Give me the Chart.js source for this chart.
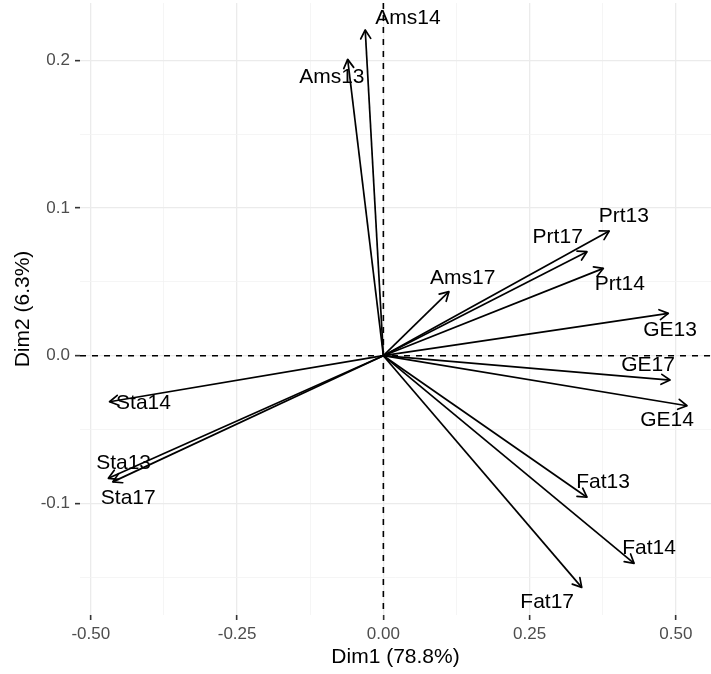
<!DOCTYPE html>
<html>
<head>
<meta charset="utf-8">
<script src="https://cdn.jsdelivr.net/npm/chart.js@4.4.0/dist/chart.umd.min.js"></script>
<style>
  html, body { margin: 0; padding: 0; background: #fff; }
  #wrap { width: 711px; height: 674px; position: relative; }
</style>
</head>
<body>
<div id="wrap"><canvas id="pcaVar"></canvas></div>
<script>
// variable names and their loadings on Dim1 / Dim2
var varNames = ['Ams14', 'Ams13', 'Ams17', 'Prt13', 'Prt17', 'Prt14', 'GE13', 'GE17', 'GE14',
                'Fat13', 'Fat14', 'Fat17', 'Sta14', 'Sta13', 'Sta17'];
var dim1 = [-0.031, -0.061, 0.112, 0.386, 0.348, 0.376, 0.487, 0.490, 0.519,
            0.348, 0.4285, 0.339, -0.468, -0.470, -0.4625];
var dim2 = [0.2207, 0.2008, 0.0434, 0.0845, 0.0705, 0.0592, 0.0287, -0.0165, -0.0339,
            -0.0959, -0.1407, -0.157, -0.0312, -0.0831, -0.0855];

// repelled label positions (data units)
var labelX = [0.042, -0.088, 0.1357, 0.411, 0.298, 0.404, 0.49, 0.4525, 0.485,
              0.3755, 0.454, 0.28, -0.410, -0.444, -0.436];
var labelY = [0.229, 0.189, 0.0524, 0.0947, 0.080, 0.0486, 0.0174, -0.0063, -0.0436,
              -0.0858, -0.1303, -0.167, -0.0323, -0.0729, -0.0966];

// ticks
var xMajor = [-0.5, -0.25, 0, 0.25, 0.5];
var xTicks = [-0.5, -0.375, -0.25, -0.125, 0, 0.125, 0.25, 0.375, 0.5];
var yMajor = [-0.1, 0, 0.1, 0.2];
var yTicks = [-0.15, -0.1, -0.05, 0, 0.05, 0.1, 0.15, 0.2];

var FONT = "'Liberation Sans', Arial, Helvetica, sans-serif";

function isMajor(list, v) {
    return list.some(m => Math.abs(m - v) < 1e-9);
}

var datasets = varNames.map((name, i) => ({
    label: name,
    data: [{ x: 0, y: 0 }, { x: dim1[i], y: dim2[i] }],
    showLine: true,
    borderColor: '#000',
    borderWidth: 1.7,
    pointRadius: 0,
    fill: false
}));

// dashed zero lines drawn under the arrows
var zeroLines = {
    id: 'zeroLines',
    beforeDatasetsDraw(chart) {
        var ctx = chart.ctx, a = chart.chartArea;
        var x0 = chart.scales.x.getPixelForValue(0);
        var y0 = chart.scales.y.getPixelForValue(0);
        ctx.save();
        ctx.strokeStyle = '#000';
        ctx.lineWidth = 1.6;
        ctx.setLineDash([6, 6]);
        ctx.beginPath();
        ctx.moveTo(a.left, y0); ctx.lineTo(a.right, y0);
        ctx.moveTo(x0, a.top); ctx.lineTo(x0, a.bottom);
        ctx.stroke();
        ctx.restore();
    }
};

// open arrow heads and text labels
var arrowsAndLabels = {
    id: 'arrowsAndLabels',
    afterDatasetsDraw(chart) {
        var ctx = chart.ctx;
        var xs = chart.scales.x, ys = chart.scales.y;
        var ox = xs.getPixelForValue(0), oy = ys.getPixelForValue(0);
        ctx.save();
        ctx.strokeStyle = '#000';
        ctx.lineWidth = 1.7;
        ctx.lineCap = 'round';
        ctx.lineJoin = 'round';
        varNames.forEach((name, i) => {
            var tx = xs.getPixelForValue(dim1[i]);
            var ty = ys.getPixelForValue(dim2[i]);
            var ang = Math.atan2(ty - oy, tx - ox);
            var len = 10, spread = Math.PI / 6;
            ctx.beginPath();
            ctx.moveTo(tx - len * Math.cos(ang - spread), ty - len * Math.sin(ang - spread));
            ctx.lineTo(tx, ty);
            ctx.lineTo(tx - len * Math.cos(ang + spread), ty - len * Math.sin(ang + spread));
            ctx.stroke();
        });
        ctx.fillStyle = '#000';
        ctx.font = '21px ' + FONT;
        ctx.textAlign = 'center';
        ctx.textBaseline = 'middle';
        varNames.forEach((name, i) => {
            ctx.fillText(name, xs.getPixelForValue(labelX[i]), ys.getPixelForValue(labelY[i]));
        });
        ctx.restore();
    }
};

var ctx = document.getElementById('pcaVar').getContext('2d');
var pcaChart = new Chart(ctx, {
    type: 'scatter',
    data: { datasets: datasets },
    plugins: [zeroLines, arrowsAndLabels],
    options: {
        responsive: true,
        maintainAspectRatio: false,
        animation: false,
        events: [],
        layout: { padding: { top: 3, right: 0, left: 0, bottom: 0 } },
        plugins: {
            legend: { display: false },
            tooltip: { enabled: false }
        },
        scales: {
            x: {
                type: 'linear',
                min: -0.5185,
                max: 0.560,
                afterBuildTicks: function (scale) {
                    scale.ticks = xTicks.map(v => ({ value: v }));
                },
                afterFit: function (scale) {
                    scale.height = 59;
                    scale.paddingLeft = 0;
                    scale.paddingRight = 0;
                },
                border: { display: false },
                grid: {
                    color: c => isMajor(xMajor, c.tick.value) ? '#EBEBEB' : '#F2F2F2',
                    lineWidth: c => isMajor(xMajor, c.tick.value) ? 1.3 : 0.8,
                    tickColor: c => isMajor(xMajor, c.tick.value) ? '#333333' : 'rgba(0,0,0,0)',
                    tickLength: 5,
                    tickWidth: 1.6
                },
                ticks: {
                    autoSkip: false,
                    maxRotation: 0,
                    padding: 4,
                    color: '#4D4D4D',
                    font: { family: FONT, size: 17 },
                    callback: function (value) {
                        return isMajor(xMajor, value) ? value.toFixed(2) : '';
                    }
                },
                title: {
                    display: true,
                    text: 'Dim1 (78.8%)',
                    color: '#000',
                    font: { family: FONT, size: 21 },
                    padding: { top: 0, bottom: 4 }
                }
            },
            y: {
                type: 'linear',
                min: -0.1757,
                max: 0.239,
                afterBuildTicks: function (scale) {
                    scale.ticks = yTicks.map(v => ({ value: v }));
                },
                afterFit: function (scale) {
                    scale.width = 80;
                    scale.paddingTop = 0;
                    scale.paddingBottom = 0;
                },
                border: { display: false },
                grid: {
                    color: c => isMajor(yMajor, c.tick.value) ? '#EBEBEB' : '#F2F2F2',
                    lineWidth: c => isMajor(yMajor, c.tick.value) ? 1.3 : 0.8,
                    tickColor: c => isMajor(yMajor, c.tick.value) ? '#333333' : 'rgba(0,0,0,0)',
                    tickLength: 5,
                    tickWidth: 1.6
                },
                ticks: {
                    autoSkip: false,
                    padding: 5,
                    color: '#4D4D4D',
                    font: { family: FONT, size: 17 },
                    callback: function (value) {
                        return isMajor(yMajor, value) ? value.toFixed(1) : '';
                    }
                },
                title: {
                    display: true,
                    text: 'Dim2 (6.3%)',
                    color: '#000',
                    font: { family: FONT, size: 21 },
                    padding: { top: 11, bottom: 0 }
                }
            }
        }
    }
});
</script>
</body>
</html>
